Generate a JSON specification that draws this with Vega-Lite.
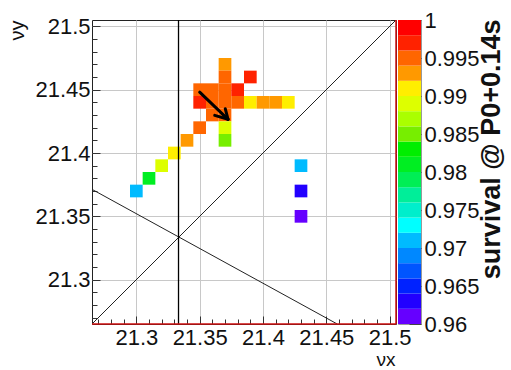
{
  "$schema": "https://vega.github.io/schema/vega-lite/v6.json",
  "padding": {"left": 6, "top": 8, "right": 2, "bottom": 4},
  "bounds": "flush",
  "spacing": 2,
  "config": {
    "font": "Liberation Sans",
    "view": {"stroke": "#222", "strokeWidth": 1},
    "axis": {"labelFont": "Liberation Sans", "labelFontSize": 22, "labelColor": "#111", "titleFont": "Liberation Sans", "titleFontWeight": "normal", "titleColor": "#111", "tickColor": "#333", "domain": false}
  },
  "resolve": {"scale": {"y": "independent", "color": "shared"}},
  "datasets": {
    "cells": [
      {"nux": 21.30, "nuy": 21.37, "survival": 0.971},
      {"nux": 21.31, "nuy": 21.38, "survival": 0.981},
      {"nux": 21.32, "nuy": 21.39, "survival": 0.989},
      {"nux": 21.33, "nuy": 21.40, "survival": 0.991},
      {"nux": 21.34, "nuy": 21.41, "survival": 0.993},
      {"nux": 21.35, "nuy": 21.42, "survival": 0.995},
      {"nux": 21.37, "nuy": 21.47, "survival": 0.993},
      {"nux": 21.37, "nuy": 21.46, "survival": 0.995},
      {"nux": 21.39, "nuy": 21.46, "survival": 0.997},
      {"nux": 21.35, "nuy": 21.45, "survival": 0.995},
      {"nux": 21.36, "nuy": 21.45, "survival": 0.995},
      {"nux": 21.37, "nuy": 21.45, "survival": 0.995},
      {"nux": 21.38, "nuy": 21.45, "survival": 0.997},
      {"nux": 21.35, "nuy": 21.44, "survival": 0.997},
      {"nux": 21.36, "nuy": 21.44, "survival": 0.995},
      {"nux": 21.37, "nuy": 21.44, "survival": 0.995},
      {"nux": 21.38, "nuy": 21.44, "survival": 0.995},
      {"nux": 21.39, "nuy": 21.44, "survival": 0.991},
      {"nux": 21.40, "nuy": 21.44, "survival": 0.993},
      {"nux": 21.41, "nuy": 21.44, "survival": 0.993},
      {"nux": 21.42, "nuy": 21.44, "survival": 0.991},
      {"nux": 21.36, "nuy": 21.43, "survival": 0.995},
      {"nux": 21.37, "nuy": 21.43, "survival": 0.995},
      {"nux": 21.37, "nuy": 21.42, "survival": 0.989},
      {"nux": 21.37, "nuy": 21.41, "survival": 0.985},
      {"nux": 21.43, "nuy": 21.39, "survival": 0.971},
      {"nux": 21.43, "nuy": 21.37, "survival": 0.963},
      {"nux": 21.43, "nuy": 21.35, "survival": 0.961}
    ],
    "resonances": [
      {"x1": 21.265, "y1": 21.265, "x2": 21.505, "y2": 21.505},
      {"x1": 21.265, "y1": 21.3713, "x2": 21.4586, "y2": 21.265}
    ],
    "third": [
      {"x1": 21.3333, "y1": 21.265, "x2": 21.3333, "y2": 21.505}
    ],
    "arrow": [
      {"x1": 21.350, "y1": 21.448, "x2": 21.3724, "y2": 21.4266},
      {"x1": 21.3724, "y1": 21.4266, "x2": 21.3702, "y2": 21.435},
      {"x1": 21.3724, "y1": 21.4266, "x2": 21.3619, "y2": 21.4297}
    ],
    "edges": [
      {"x1": 21.265, "y1": 21.265, "x2": 21.505, "y2": 21.265},
      {"x1": 21.505, "y1": 21.265, "x2": 21.505, "y2": 21.505}
    ],
    "bands": [
      {"lo": 0.960, "hi": 0.962}, {"lo": 0.962, "hi": 0.964}, {"lo": 0.964, "hi": 0.966}, {"lo": 0.966, "hi": 0.968},
      {"lo": 0.968, "hi": 0.970}, {"lo": 0.970, "hi": 0.972}, {"lo": 0.972, "hi": 0.974}, {"lo": 0.974, "hi": 0.976},
      {"lo": 0.976, "hi": 0.978}, {"lo": 0.978, "hi": 0.980}, {"lo": 0.980, "hi": 0.982}, {"lo": 0.982, "hi": 0.984},
      {"lo": 0.984, "hi": 0.986}, {"lo": 0.986, "hi": 0.988}, {"lo": 0.988, "hi": 0.990}, {"lo": 0.990, "hi": 0.992},
      {"lo": 0.992, "hi": 0.994}, {"lo": 0.994, "hi": 0.996}, {"lo": 0.996, "hi": 0.998}, {"lo": 0.998, "hi": 1.000}
    ]
  },
  "hconcat": [
    {
      "width": 304,
      "height": 304,
      "resolve": {"axis": {"x": "independent", "y": "independent"}},
      "layer": [
        {
          "data": {"name": "cells"},
          "mark": {"type": "square", "size": 161, "opacity": 1},
          "encoding": {
            "x": {
              "field": "nux", "type": "quantitative",
              "scale": {"domain": [21.265, 21.505], "nice": false, "zero": false},
              "axis": {
                "orient": "bottom",
                "values": [21.3, 21.35, 21.4, 21.45, 21.5],
                "format": ".4~g",
                "tickSize": -8, "labelPadding": 11,
                "labelFlush": false, "labelOverlap": false, "labelBound": false,
                "grid": true, "gridColor": "#c8c8c8", "gridWidth": 1,
                "title": "νx", "titleFontSize": 19, "titleAlign": "right", "titleBaseline": "alphabetic", "titleX": 303, "titleY": 41
              }
            },
            "y": {
              "field": "nuy", "type": "quantitative",
              "scale": {"domain": [21.265, 21.505], "nice": false, "zero": false},
              "axis": {
                "orient": "left",
                "values": [21.3, 21.35, 21.4, 21.45, 21.5],
                "format": ".4~g",
                "tickSize": -8, "labelPadding": 10,
                "labelFlush": false, "labelOverlap": false, "labelBound": false,
                "grid": true, "gridColor": "#c8c8c8", "gridWidth": 1,
                "title": "νy", "titleFontSize": 20, "titleAngle": 270, "titleAlign": "right", "titleBaseline": "top", "titleX": -85, "titleY": 0
              }
            },
            "color": {
              "field": "survival", "type": "quantitative",
              "scale": {
                "type": "threshold",
                "domain": [0.962, 0.964, 0.966, 0.968, 0.97, 0.972, 0.974, 0.976, 0.978, 0.98, 0.982, 0.984, 0.986, 0.988, 0.99, 0.992, 0.994, 0.996, 0.998],
                "range": ["#6600ff", "#2200ff", "#0022ff", "#0055ff", "#0088ff", "#00bbff", "#00ffff", "#00eecc", "#00ee99", "#00ee55", "#00ee22", "#00ee00", "#77ee00", "#aaff00", "#ddff00", "#ffee00", "#ff9900", "#ff6600", "#ff2200", "#ff0000"]
              },
              "legend": null
            }
          }
        },
        {
          "data": {"name": "resonances"},
          "mark": {"type": "rule", "color": "#222", "strokeWidth": 1, "clip": true},
          "encoding": {
            "x": {"field": "x1", "type": "quantitative", "axis": {"orient": "top", "offset": -304, "values": [21.27, 21.28, 21.29, 21.3, 21.31, 21.32, 21.33, 21.34, 21.35, 21.36, 21.37, 21.38, 21.39, 21.4, 21.41, 21.42, 21.43, 21.44, 21.45, 21.46, 21.47, 21.48, 21.49, 21.5], "tickSize": 5, "labels": false, "grid": false, "title": null}},
            "y": {"field": "y1", "type": "quantitative", "axis": {"orient": "right", "offset": -304, "values": [21.27, 21.28, 21.29, 21.3, 21.31, 21.32, 21.33, 21.34, 21.35, 21.36, 21.37, 21.38, 21.39, 21.4, 21.41, 21.42, 21.43, 21.44, 21.45, 21.46, 21.47, 21.48, 21.49, 21.5], "tickSize": 5, "labels": false, "grid": false, "title": null}},
            "x2": {"field": "x2"}, "y2": {"field": "y2"}
          }
        },
        {
          "data": {"name": "third"},
          "mark": {"type": "rule", "color": "#000", "strokeWidth": 1.3, "clip": true},
          "encoding": {"x": {"field": "x1", "type": "quantitative", "axis": null}, "y": {"field": "y1", "type": "quantitative", "axis": null}, "x2": {"field": "x2"}, "y2": {"field": "y2"}}
        },
        {
          "data": {"name": "edges"},
          "mark": {"type": "rule", "color": "#cc1111", "strokeWidth": 1.5},
          "encoding": {"x": {"field": "x1", "type": "quantitative", "axis": null}, "y": {"field": "y1", "type": "quantitative", "axis": null}, "x2": {"field": "x2"}, "y2": {"field": "y2"}}
        },
        {
          "data": {"name": "arrow"},
          "mark": {"type": "rule", "color": "#000", "strokeWidth": 3, "strokeCap": "round"},
          "encoding": {"x": {"field": "x1", "type": "quantitative", "axis": null}, "y": {"field": "y1", "type": "quantitative", "axis": null}, "x2": {"field": "x2"}, "y2": {"field": "y2"}}
        }
      ]
    },
    {
      "width": 23,
      "height": 304,
      "view": {"stroke": "#999", "strokeWidth": 1},
      "data": {"name": "bands"},
      "mark": {"type": "rect"},
      "encoding": {
        "y": {
          "field": "lo", "type": "quantitative",
          "scale": {"domain": [0.96, 1], "nice": false, "zero": false},
          "axis": {
            "orient": "right",
            "values": [0.96, 0.965, 0.97, 0.975, 0.98, 0.985, 0.99, 0.995, 1],
            "format": "~g",
            "tickSize": -12, "tickColor": "#444", "labelPadding": 15,
            "labelFlush": false, "labelOverlap": false, "labelBound": false,
            "grid": false,
            "title": "survival @ P0+0.14s", "titleFontSize": 27, "titleFontWeight": "bold",
            "titleAngle": -90, "titleAlign": "right", "titleBaseline": "top", "titleX": 57, "titleY": -1
          }
        },
        "y2": {"field": "hi"},
        "color": {
          "field": "lo", "type": "quantitative",
          "scale": {
            "type": "threshold",
            "domain": [0.962, 0.964, 0.966, 0.968, 0.97, 0.972, 0.974, 0.976, 0.978, 0.98, 0.982, 0.984, 0.986, 0.988, 0.99, 0.992, 0.994, 0.996, 0.998],
            "range": ["#6600ff", "#2200ff", "#0022ff", "#0055ff", "#0088ff", "#00bbff", "#00ffff", "#00eecc", "#00ee99", "#00ee55", "#00ee22", "#00ee00", "#77ee00", "#aaff00", "#ddff00", "#ffee00", "#ff9900", "#ff6600", "#ff2200", "#ff0000"]
          },
          "legend": null
        }
      }
    }
  ]
}
